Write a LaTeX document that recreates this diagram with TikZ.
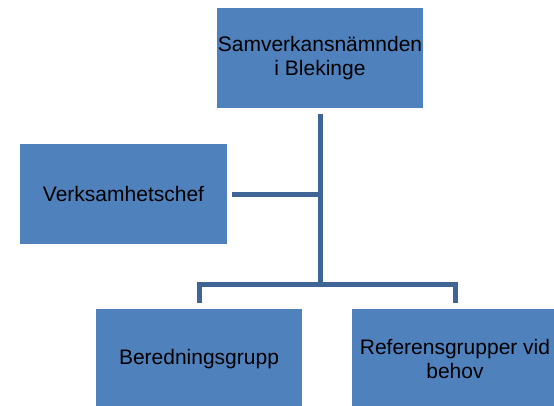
\documentclass[tikz,border=0pt]{standalone}
\usepackage{fontspec}
\setmainfont{Liberation Sans}
\definecolor{boxblue}{HTML}{4F81BD}
\definecolor{lineblue}{HTML}{3F6597}
\tikzset{
  orgbox/.style={fill=boxblue, draw=none, minimum width=206pt, minimum height=100pt, inner sep=0pt, align=center, text=black, font=\fontsize{21}{24.5}\selectfont},
  conn/.style={draw=lineblue, line width=5pt, line join=miter}
}
\begin{document}
\begin{tikzpicture}[x=1pt,y=-1pt]
\useasboundingbox (0,0) rectangle (554,405);
\clip (0,0) rectangle (554,405);
\fill[white] (0,0) rectangle (554,405);
\node[orgbox] (top) at (320,58) {Samverkansnämnden\\i Blekinge};
\node[orgbox, minimum width=207pt] (verk) at (123.5,194) {Verksamhetschef};
\node[orgbox] (bered) at (199,359) {Beredningsgrupp};
\node[orgbox] (ref) at (455,359) {Referensgrupper vid\\behov};
\coordinate (j1) at (verk.east -| top.south);
\coordinate (j2) at (320,284);
\draw[conn, shorten <=6pt] (top.south) -- (j2);
\draw[conn, shorten <=5pt] (verk.east) -- (j1);
\draw[conn, shorten <=6pt, shorten >=6pt] (bered.north) -- (bered.north |- j2) -- (ref.north |- j2) -- (ref.north);
\end{tikzpicture}
\end{document}
